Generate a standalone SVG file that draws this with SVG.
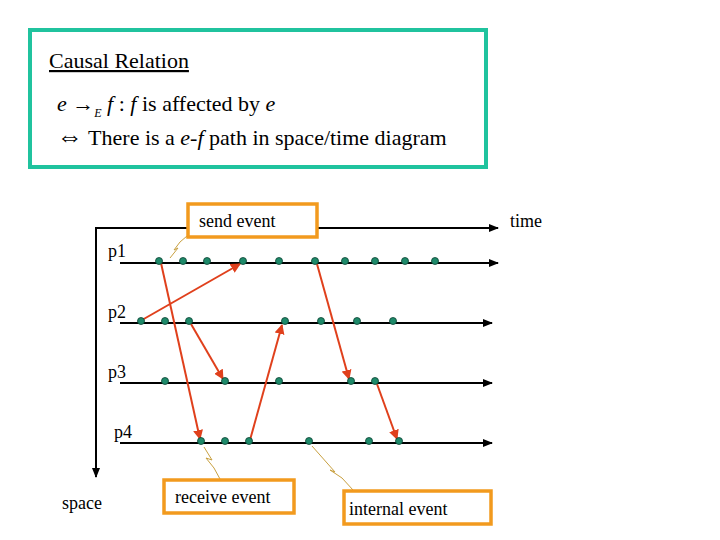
<svg xmlns="http://www.w3.org/2000/svg" width="720" height="540" viewBox="0 0 720 540">
<defs>
<style>
.t{font-family:"Liberation Serif","Times New Roman",serif;font-size:18px;fill:#000}
.m{font-family:"Liberation Serif","Times New Roman",serif;font-size:22px;fill:#000}
.ax{stroke:#000;stroke-width:2;fill:none}
.msg{stroke:#e0401c;stroke-width:2;fill:none;marker-end:url(#ra)}
.dot{fill:#1e8a6a;stroke:#0a4030;stroke-width:0.8}
.lab{fill:#fff;stroke:#f29a1e;stroke-width:3.5}
.bolt{stroke:#c8a040;stroke-width:1;fill:none}
</style>
<marker id="ba" viewBox="0 0 10 10" refX="9" refY="5" markerWidth="5" markerHeight="5" orient="auto"><path d="M0,1 L10,5 L0,9z" fill="#000"/></marker>
<marker id="ra" viewBox="0 0 10 10" refX="9" refY="5" markerWidth="5" markerHeight="5" orient="auto"><path d="M0,0 L10,5 L0,10z" fill="#e0401c"/></marker>
</defs>
<rect x="30" y="30" width="456" height="137" fill="#fff" stroke="#20c39e" stroke-width="4"/>
<text x="49" y="68" class="t" style="font-size:22px" text-decoration="underline">Causal Relation</text>
<text x="57" y="111" class="m"><tspan font-style="italic">e</tspan> →<tspan font-style="italic" font-size="12" dy="6">E</tspan><tspan dy="-6"> </tspan><tspan font-style="italic">f</tspan> : <tspan font-style="italic">f</tspan> is affected by <tspan font-style="italic">e</tspan></text>
<text x="57" y="145" class="m"><tspan font-size="26">⇔</tspan> There is a <tspan font-style="italic">e-f</tspan>  path in space/time diagram</text>
<g id="connectors">
<path class="ax" d="M96,477 V228 H498" marker-end="url(#ba)"/>
<path class="ax" d="M96,228 V477" marker-end="url(#ba)"/>
<line class="ax" x1="120" y1="263" x2="498" y2="263" marker-end="url(#ba)"/>
<line class="ax" x1="120" y1="323" x2="492" y2="323" marker-end="url(#ba)"/>
<line class="ax" x1="120" y1="383" x2="492" y2="383" marker-end="url(#ba)"/>
<line class="ax" x1="120" y1="443" x2="492" y2="443" marker-end="url(#ba)"/>
<line class="msg" x1="161" y1="263" x2="200" y2="439"/>
<line class="msg" x1="142" y1="320" x2="240" y2="264"/>
<line class="msg" x1="191" y1="324" x2="223" y2="379"/>
<line class="msg" x1="250" y1="440" x2="282" y2="325"/>
<line class="msg" x1="317" y1="264" x2="349" y2="379"/>
<line class="msg" x1="377" y1="384" x2="397" y2="439"/>
<path class="bolt" d="M170,258 L178,248 L174,250 L180,242 L187,236"/>
<path class="bolt" d="M204,447 L212,460 L206,458 L214,468 L220,479"/>
<path class="bolt" d="M312,446 L335,472 L330,470 L342,478 L353,490"/>
</g>
<g id="dots">
<g id="p1dots"><circle class="dot" cx="159" cy="261" r="3.5"/><circle class="dot" cx="183" cy="261" r="3.5"/><circle class="dot" cx="207" cy="261" r="3.5"/><circle class="dot" cx="243" cy="261" r="3.5"/><circle class="dot" cx="279" cy="261" r="3.5"/><circle class="dot" cx="315" cy="261" r="3.5"/><circle class="dot" cx="345" cy="261" r="3.5"/><circle class="dot" cx="375" cy="261" r="3.5"/><circle class="dot" cx="405" cy="261" r="3.5"/><circle class="dot" cx="435" cy="261" r="3.5"/></g>
<g id="p2dots"><circle class="dot" cx="141" cy="321" r="3.5"/><circle class="dot" cx="165" cy="321" r="3.5"/><circle class="dot" cx="189" cy="321" r="3.5"/><circle class="dot" cx="285" cy="321" r="3.5"/><circle class="dot" cx="321" cy="321" r="3.5"/><circle class="dot" cx="357" cy="321" r="3.5"/><circle class="dot" cx="393" cy="321" r="3.5"/></g>
<g id="p3dots"><circle class="dot" cx="165" cy="381" r="3.5"/><circle class="dot" cx="225" cy="381" r="3.5"/><circle class="dot" cx="279" cy="381" r="3.5"/><circle class="dot" cx="351" cy="381" r="3.5"/><circle class="dot" cx="375" cy="381" r="3.5"/></g>
<g id="p4dots"><circle class="dot" cx="201" cy="441" r="3.5"/><circle class="dot" cx="225" cy="441" r="3.5"/><circle class="dot" cx="249" cy="441" r="3.5"/><circle class="dot" cx="309" cy="441" r="3.5"/><circle class="dot" cx="369" cy="441" r="3.5"/><circle class="dot" cx="399" cy="441" r="3.5"/></g>
</g>
<g id="labels">
<text x="108" y="257" class="t">p1</text>
<text x="108" y="318" class="t">p2</text>
<text x="108" y="378" class="t">p3</text>
<text x="114" y="438" class="t">p4</text>
<text x="510" y="227" class="t">time</text>
<text x="62" y="509" class="t">space</text>
</g>
<g id="send"><rect class="lab" x="188" y="204" width="129" height="33"/><text x="199" y="227" class="t">send event</text></g>
<g id="receive"><rect class="lab" x="164" y="480" width="130" height="33"/><text x="175" y="503" class="t">receive event</text></g>
<g id="internal"><rect class="lab" x="344" y="491" width="147" height="33"/><text x="349" y="515" class="t">internal event</text></g>
</svg>
